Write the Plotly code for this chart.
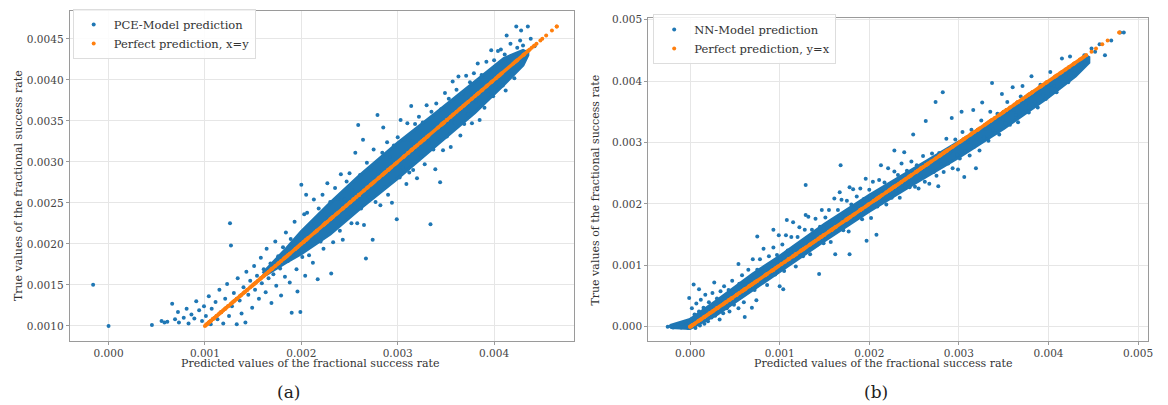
import plotly.graph_objects as go

# ---------------- Panel (a): PCE model ----------------
# individual points: predicted value, true value
pce_pred = [
    -0.00016, 0.00000, 0.00045, 0.00055, 0.00058, 0.00061, 0.00066, 0.00069, 0.00072, 0.00073,
    0.00078, 0.00081, 0.00083, 0.00086, 0.00089, 0.00091, 0.00094, 0.00097, 0.00099, 0.00101,
    0.00104, 0.00106, 0.00107, 0.00111, 0.00113, 0.00115, 0.00117, 0.00119, 0.00121, 0.00123,
    0.00126, 0.00127, 0.00125, 0.00128, 0.00130, 0.00133, 0.00134, 0.00136, 0.00138, 0.00140,
    0.00142, 0.00143, 0.00145, 0.00147, 0.00149, 0.00151, 0.00152, 0.00154, 0.00156, 0.00158,
    0.00159, 0.00161, 0.00163, 0.00164, 0.00166, 0.00168, 0.00169, 0.00171, 0.00173, 0.00174,
    0.00176, 0.00178, 0.00179, 0.00181, 0.00183, 0.00184, 0.00186, 0.00188, 0.00189, 0.00190,
    0.00191, 0.00193, 0.00195, 0.00196, 0.00197, 0.00199, 0.00200, 0.00201, 0.00203, 0.00205,
    0.00204,
    0.00206, 0.00208, 0.00210, 0.00212, 0.00213, 0.00215, 0.00217, 0.00218, 0.00220, 0.00222,
    0.00223, 0.00225, 0.00227, 0.00228, 0.00230, 0.00231, 0.00233, 0.00235, 0.00236, 0.00238,
    0.00240, 0.00241, 0.00243, 0.00245, 0.00247, 0.00248, 0.00250, 0.00252, 0.00253, 0.00255,
    0.00256, 0.00258, 0.00259, 0.00261, 0.00262, 0.00264, 0.00265, 0.00267, 0.00268, 0.00270,
    0.00272, 0.00274, 0.00275, 0.00277, 0.00279, 0.00280, 0.00282, 0.00284, 0.00285, 0.00287,
    0.00289, 0.00290, 0.00292, 0.00294, 0.00296, 0.00299, 0.00300, 0.00302, 0.00303, 0.00305,
    0.00307, 0.00309, 0.00310, 0.00312, 0.00314, 0.00315, 0.00316, 0.00318, 0.00320, 0.00322,
    0.00324, 0.00326, 0.00328, 0.00330, 0.00332, 0.00334, 0.00335, 0.00337, 0.00339, 0.00340,
    0.00342, 0.00344, 0.00345, 0.00347, 0.00349, 0.00351, 0.00353, 0.00355, 0.00357, 0.00359,
    0.00361, 0.00363, 0.00365, 0.00367, 0.00369, 0.00371, 0.00373, 0.00375, 0.00377, 0.00379,
    0.00381, 0.00383, 0.00385, 0.00387, 0.00390, 0.00392, 0.00394, 0.00397, 0.00399, 0.00400,
    0.00402, 0.00404, 0.00407, 0.00409, 0.00411, 0.00412, 0.00413, 0.00415, 0.00417, 0.00419,
    0.00421, 0.00423, 0.00424, 0.00426, 0.00427, 0.00428, 0.00430, 0.00432, 0.00435, 0.00438,
    0.00442,
]
pce_true = [
    0.00150, 0.00100, 0.00101, 0.00106, 0.00104, 0.00105, 0.00127, 0.00108, 0.00117, 0.00104,
    0.00110, 0.00121, 0.00103, 0.00114, 0.00109, 0.00130, 0.00119, 0.00106, 0.00124, 0.00112,
    0.00136, 0.00102, 0.00121, 0.00129, 0.00108, 0.00144, 0.00117, 0.00103, 0.00133, 0.00151,
    0.00225, 0.00198, 0.00112, 0.00124, 0.00140, 0.00102, 0.00158, 0.00131, 0.00115, 0.00147,
    0.00104, 0.00166, 0.00138, 0.00155, 0.00122, 0.00173, 0.00144, 0.00161, 0.00133, 0.00183,
    0.00152, 0.00169, 0.00141, 0.00194, 0.00158, 0.00176, 0.00128, 0.00163, 0.00203, 0.00149,
    0.00185, 0.00170, 0.00137, 0.00196, 0.00160, 0.00214, 0.00179, 0.00153, 0.00206, 0.00116,
    0.00188, 0.00227, 0.00169, 0.00142, 0.00200, 0.00117, 0.00272, 0.00184, 0.00236, 0.00260,
    0.00161,
    0.00238, 0.00186, 0.00224, 0.00177, 0.00254, 0.00207, 0.00157, 0.00243, 0.00203, 0.00260,
    0.00194, 0.00231, 0.00274, 0.00216, 0.00251, 0.00164, 0.00202, 0.00268, 0.00232, 0.00255,
    0.00216, 0.00285, 0.00205, 0.00254, 0.00276, 0.00233, 0.00286, 0.00225, 0.00265, 0.00246,
    0.00311, 0.00225, 0.00345, 0.00284, 0.00243, 0.00327, 0.00223, 0.00182, 0.00299, 0.00257,
    0.00290, 0.00205, 0.00315, 0.00251, 0.00357, 0.00288, 0.00247, 0.00311, 0.00342, 0.00269,
    0.00324, 0.00260, 0.00306, 0.00250, 0.00320, 0.00230, 0.00330, 0.00281, 0.00351, 0.00293,
    0.00327, 0.00273, 0.00347, 0.00287, 0.00368, 0.00325, 0.00290, 0.00346, 0.00280, 0.00355,
    0.00307, 0.00348, 0.00297, 0.00369, 0.00323, 0.00224, 0.00361, 0.00315, 0.00291, 0.00371,
    0.00328, 0.00275, 0.00364, 0.00314, 0.00384, 0.00331, 0.00377, 0.00318, 0.00398, 0.00348,
    0.00388, 0.00404, 0.00332, 0.00383, 0.00346, 0.00405, 0.00358, 0.00397, 0.00347, 0.00408,
    0.00373, 0.00420, 0.00351, 0.00406, 0.00366, 0.00422, 0.00382, 0.00436, 0.00380, 0.00424,
    0.00392, 0.00435, 0.00437, 0.00393, 0.00431, 0.00387, 0.00454, 0.00423, 0.00444, 0.00407,
    0.00402, 0.00465, 0.00439, 0.00431, 0.00448, 0.00460, 0.00442, 0.00430, 0.00465, 0.00450,
    0.00441,
]
# envelope of the dense core of the cloud (predicted value -> lowest / highest true value)
pce_core_x = [0.00160, 0.00185, 0.00200, 0.00230, 0.00260, 0.00300, 0.00340, 0.00380,
              0.00410, 0.00430, 0.00435]
pce_core_lo = [0.00160, 0.00178, 0.00188, 0.00212, 0.00242, 0.00280, 0.00320, 0.00360,
               0.00394, 0.00418, 0.00430]
pce_core_hi = [0.00164, 0.00195, 0.00215, 0.00250, 0.00283, 0.00323, 0.00360, 0.00398,
               0.00426, 0.00436, 0.00433]

# ---------------- Panel (b): NN model ----------------
nn_pred = [
    -0.00025, -0.00022, -0.00019, -0.00016, -0.00013, -0.00010, -0.00007, -0.00004, -0.00002, -0.00001,
    0.00001, 0.00002, 0.00003, 0.00004, 0.00005, 0.00006, 0.00007, 0.00008, 0.00010, 0.00010,
    0.00011, 0.00012, 0.00013, 0.00015, 0.00016, 0.00017, 0.00018, 0.00020, 0.00021, 0.00022,
    0.00024, 0.00025, 0.00027, 0.00027, 0.00028, 0.00030, 0.00031, 0.00033, 0.00034, 0.00035,
    0.00037, 0.00038, 0.00040, 0.00041, 0.00043, 0.00044, 0.00046, 0.00047, 0.00049, 0.00050,
    0.00052, 0.00054, 0.00054, 0.00055, 0.00057, 0.00058, 0.00060, 0.00061, 0.00062, 0.00063,
    0.00065, 0.00067, 0.00069, 0.00070, 0.00072, 0.00075, 0.00074, 0.00075, 0.00078, 0.00080,
    0.00082, 0.00084, 0.00086, 0.00088, 0.00090, 0.00093, 0.00093, 0.00095, 0.00097, 0.00099,
    0.00100, 0.00101, 0.00103, 0.00104, 0.00105, 0.00107, 0.00108, 0.00109, 0.00111, 0.00113,
    0.00115, 0.00116, 0.00118, 0.00120, 0.00122, 0.00124, 0.00126, 0.00128, 0.00129, 0.00129,
    0.00130, 0.00132, 0.00134, 0.00136, 0.00138, 0.00140, 0.00142, 0.00144, 0.00145, 0.00147,
    0.00149, 0.00151, 0.00153, 0.00155, 0.00157, 0.00159, 0.00161, 0.00162, 0.00163, 0.00165,
    0.00167, 0.00168, 0.00169, 0.00171, 0.00173, 0.00175, 0.00177, 0.00178, 0.00178, 0.00180,
    0.00182, 0.00184, 0.00186, 0.00188, 0.00190, 0.00192, 0.00194, 0.00196, 0.00197, 0.00198,
    0.00200, 0.00202, 0.00204, 0.00206, 0.00208, 0.00209, 0.00211, 0.00213, 0.00215, 0.00217,
    0.00219, 0.00221, 0.00223, 0.00225, 0.00228, 0.00228, 0.00230, 0.00232, 0.00234, 0.00236,
    0.00239, 0.00240, 0.00242, 0.00245, 0.00247, 0.00249,
    0.00251, 0.00253, 0.00255, 0.00257, 0.00260, 0.00262, 0.00263, 0.00265, 0.00267, 0.00270,
    0.00272, 0.00274, 0.00275, 0.00277, 0.00278, 0.00280, 0.00282, 0.00283, 0.00286, 0.00288,
    0.00290, 0.00292, 0.00293, 0.00296, 0.00298, 0.00299, 0.00301, 0.00303, 0.00304, 0.00306,
    0.00307, 0.00310, 0.00312, 0.00314, 0.00316, 0.00317, 0.00319, 0.00320, 0.00323, 0.00325,
    0.00326, 0.00328, 0.00330, 0.00333, 0.00335, 0.00337, 0.00338, 0.00340, 0.00343, 0.00345,
    0.00348, 0.00349, 0.00352, 0.00354, 0.00357, 0.00360, 0.00361, 0.00364, 0.00366, 0.00369,
    0.00371, 0.00372, 0.00375, 0.00378, 0.00381, 0.00382, 0.00385, 0.00388, 0.00391, 0.00394,
    0.00397, 0.00400, 0.00402, 0.00403, 0.00406, 0.00409, 0.00412, 0.00415, 0.00416, 0.00419,
    0.00422, 0.00424, 0.00426, 0.00429, 0.00433, 0.00436, 0.00441, 0.00440, 0.00444, 0.00448,
    0.00452, 0.00457, 0.00463, 0.00470, 0.00480, 0.00484,
]
nn_true = [
    0.00000, 0.00001, -0.00001, 0.00000, 0.00002, -0.00001, 0.00001, 0.00003, -0.00002, 0.00047,
    0.00012, 0.00030, 0.00005, 0.00069, 0.00020, -0.00002, 0.00038, 0.00010, 0.00061, 0.00025,
    0.00002, 0.00044, 0.00016, 0.00031, 0.00005, 0.00052, 0.00022, 0.00009, 0.00040, 0.00028,
    0.00015, 0.00055, 0.00072, 0.00033, 0.00018, 0.00046, 0.00026, 0.00012, 0.00058, 0.00038,
    0.00022, 0.00066, 0.00047, 0.00030, 0.00060, 0.00025, 0.00052, 0.00075, 0.00036, 0.00062,
    0.00044, 0.00102, 0.00030, 0.00070, 0.00052, 0.00084, 0.00040, 0.00016, 0.00075, 0.00058,
    0.00093, 0.00072, 0.00031, 0.00110, 0.00060, 0.00147, 0.00043, 0.00093, 0.00110, 0.00073,
    0.00127, 0.00096, 0.00068, 0.00115, 0.00093, 0.00158, 0.00129, 0.00085, 0.00117, 0.00149,
    0.00066, 0.00110, 0.00134, 0.00061, 0.00091, 0.00149, 0.00174, 0.00124, 0.00106, 0.00146,
    0.00170, 0.00124, 0.00098, 0.00146, 0.00162, 0.00126, 0.00115, 0.00158, 0.00182, 0.00231,
    0.00144, 0.00179, 0.00118, 0.00158, 0.00143, 0.00176, 0.00134, 0.00086, 0.00163, 0.00190,
    0.00136, 0.00178, 0.00160, 0.00190, 0.00138, 0.00174, 0.00209, 0.00118, 0.00158, 0.00190,
    0.00219, 0.00263, 0.00207, 0.00157, 0.00184, 0.00205, 0.00155, 0.00118, 0.00227, 0.00199,
    0.00224, 0.00175, 0.00212, 0.00192, 0.00225, 0.00175, 0.00208, 0.00241, 0.00140, 0.00192,
    0.00223, 0.00177, 0.00236, 0.00214, 0.00150, 0.00196, 0.00239, 0.00263, 0.00211, 0.00235,
    0.00199, 0.00258, 0.00229, 0.00210, 0.00287, 0.00253, 0.00222, 0.00247, 0.00210, 0.00266,
    0.00284, 0.00229, 0.00254, 0.00227, 0.00269, 0.00313,
    0.00228, 0.00263, 0.00225, 0.00245, 0.00278, 0.00236, 0.00335, 0.00260, 0.00233, 0.00282,
    0.00252, 0.00366, 0.00246, 0.00229, 0.00283, 0.00265, 0.00382, 0.00252, 0.00306, 0.00266,
    0.00284, 0.00340, 0.00258, 0.00305, 0.00280, 0.00256, 0.00274, 0.00350, 0.00317, 0.00244,
    0.00286, 0.00301, 0.00279, 0.00321, 0.00353, 0.00293, 0.00258, 0.00306, 0.00287, 0.00336,
    0.00365, 0.00308, 0.00323, 0.00303, 0.00350, 0.00397, 0.00321, 0.00315, 0.00347, 0.00313,
    0.00379, 0.00337, 0.00331, 0.00366, 0.00329, 0.00390, 0.00353, 0.00345, 0.00333, 0.00375,
    0.00392, 0.00349, 0.00362, 0.00349, 0.00408, 0.00377, 0.00365, 0.00357, 0.00394, 0.00378,
    0.00371, 0.00391, 0.00415, 0.00381, 0.00392, 0.00382, 0.00407, 0.00437, 0.00398, 0.00409,
    0.00398, 0.00440, 0.00419, 0.00413, 0.00428, 0.00423, 0.00429, 0.00442, 0.00435, 0.00453,
    0.00448, 0.00460, 0.00442, 0.00466, 0.00479, 0.00479,
]
nn_core_x = [-0.00022, 0.00000, 0.00030, 0.00070, 0.00100, 0.00150, 0.00200, 0.00250,
             0.00300, 0.00350, 0.00400, 0.00430, 0.00445]
nn_core_lo = [-0.00001, -0.00003, 0.00020, 0.00060, 0.00090, 0.00140, 0.00188, 0.00233,
              0.00276, 0.00323, 0.00374, 0.00408, 0.00430]
nn_core_hi = [0.00002, 0.00012, 0.00043, 0.00086, 0.00115, 0.00167, 0.00214, 0.00257,
              0.00301, 0.00347, 0.00397, 0.00427, 0.00440]

BLUE = "#1f77b4"
ORANGE = "#ff7f0e"
FONT = "DejaVu Serif"

fig = go.Figure()


def add_panel(pred, true, cx, clo, chi, xa, ya, leg, name_pred, name_perf):
    # dense core of the cloud
    fig.add_trace(go.Scatter(
        x=cx + cx[::-1], y=chi + clo[::-1], fill="toself", fillcolor=BLUE,
        line=dict(color=BLUE, width=3), mode="lines", hoverinfo="skip",
        showlegend=False, xaxis=xa, yaxis=ya))
    # scattered predictions
    fig.add_trace(go.Scatter(
        x=pred, y=true, mode="markers", name=name_pred,
        marker=dict(color=BLUE, size=4, line=dict(width=0)),
        xaxis=xa, yaxis=ya, legend=leg))
    # perfect prediction: (true, true) -- continuous where the data are dense
    top = max(chi)
    dense_true = sorted(t for t in true + clo + chi if max(0.0, min(true)) <= t <= top)
    fig.add_trace(go.Scatter(
        x=dense_true, y=dense_true, mode="lines", line=dict(color=ORANGE, width=3.5),
        hoverinfo="skip", showlegend=False, xaxis=xa, yaxis=ya))
    st = sorted(t for t in true if t >= 0)
    fig.add_trace(go.Scatter(
        x=st, y=st, mode="markers", name=name_perf,
        marker=dict(color=ORANGE, size=4, line=dict(width=0)),
        xaxis=xa, yaxis=ya, legend=leg))


add_panel(pce_pred, pce_true, pce_core_x, pce_core_lo, pce_core_hi,
          "x", "y", "legend", "PCE-Model prediction", "Perfect prediction, x=y")
add_panel(nn_pred, nn_true, nn_core_x, nn_core_lo, nn_core_hi,
          "x2", "y2", "legend2", "NN-Model prediction", "Perfect prediction, y=x")

W, H = 1168, 405
axis_common = dict(
    showline=True, linecolor="#9a9a9a", linewidth=1, mirror=True,
    ticks="outside", ticklen=3, tickcolor="#9a9a9a",
    showgrid=True, gridcolor="#e6e6e6", gridwidth=1, zeroline=False,
    tickfont=dict(family=FONT, size=10.5, color="#444"),
)
title_font = dict(family=FONT, size=11, color="#333")
XT = "Predicted values of the fractional success rate"
YT = "True values of the fractional success rate"


def note(text, xp, yp, font, angle=0):
    return dict(text=text, x=xp / W, y=1 - yp / H, xref="paper", yref="paper",
                xanchor="center", yanchor="middle", textangle=angle,
                showarrow=False, font=font)


fig.update_layout(
    width=W, height=H,
    margin=dict(l=0, r=0, t=0, b=0),
    paper_bgcolor="white", plot_bgcolor="white",
    showlegend=True,
    xaxis=dict(domain=[70 / W, 576 / W], range=[-0.000403, 0.004824],
               dtick=0.001, tick0=0, tickformat=".3f", anchor="y", **axis_common),
    yaxis=dict(domain=[1 - 340 / H, 1 - 7 / H], range=[0.00082, 0.00484],
               dtick=0.0005, tick0=0, tickformat=".4f", anchor="x", **axis_common),
    xaxis2=dict(domain=[651 / W, 1153 / W], range=[-0.000467, 0.005111],
                dtick=0.001, tick0=0, tickformat=".3f", anchor="y2", **axis_common),
    yaxis2=dict(domain=[1 - 340 / H, 1 - 14 / H], range=[-0.000226, 0.00503],
                dtick=0.001, tick0=0, tickformat=".3f", anchor="x2", **axis_common),
    legend=dict(x=73 / W, y=1 - 5 / H, xanchor="left", yanchor="top",
                bgcolor="rgba(255,255,255,0.85)", bordercolor="#dddddd", borderwidth=1,
                font=dict(family=FONT, size=11.5, color="#333"), tracegroupgap=0),
    legend2=dict(x=656 / W, y=1 - 10 / H, xanchor="left", yanchor="top",
                 bgcolor="rgba(255,255,255,0.85)", bordercolor="#dddddd", borderwidth=1,
                 font=dict(family=FONT, size=11.5, color="#333"), tracegroupgap=0),
    annotations=[
        note(XT, 311, 363, title_font),
        note(XT, 887, 363, title_font),
        note(YT, 18, 183, title_font, -90),
        note(YT, 598, 188, title_font, -90),
        note("(a)", 290, 392, dict(family=FONT, size=17, color="#222")),
        note("(b)", 880, 392, dict(family=FONT, size=17, color="#222")),
    ],
)

# the page's default body margin would shift the 1168x405 figure; remove it
fig.write_html("out.html", config={"displayModeBar": False},
               post_script="document.body.style.margin='0px';")
